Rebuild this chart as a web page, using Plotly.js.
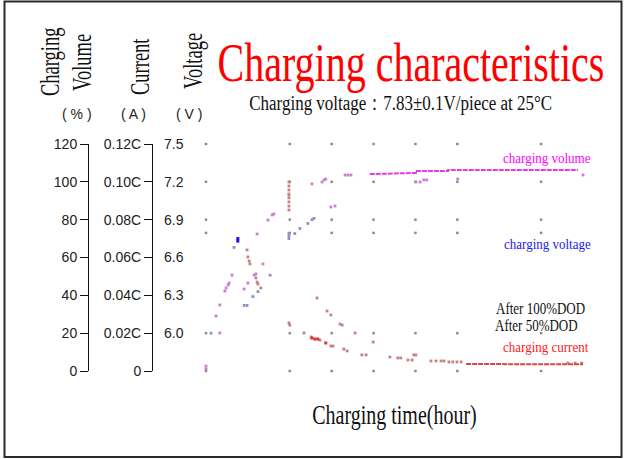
<!DOCTYPE html>
<html>
<head>
<meta charset="utf-8">
<script src="https://cdn.plot.ly/plotly-3.0.1.min.js"></script>
<style>
html,body{margin:0;padding:0;background:#fff;overflow:hidden;}
#chart{width:624px;height:459px;}
</style>
</head>
<body>
<div id="chart"></div>
<script>
// ---- data (time in hours, volume in %, current in C, voltage in V) ----
const gridHours = [0, 2, 3, 4, 5, 6, 8];
const gridPercent = [120, 100, 80, 73, 20, 0];

const volumeHours = [0, 0, 0.24, 0.33, 0.45, 0.48, 0.53, 0.55, 0.62, 0.91, 1.00, 1.15, 1.19, 1.22, 1.48, 1.58, 1.62, 1.98, 2.53, 2.77, 2.82, 2.86, 2.98, 3.08, 3.32, 3.39, 3.46, 5.01, 5.11, 5.20, 5.27, 6.01, 9.0, 0.33, 1.36];
const volumePercent = [2.6, 1.1, 29.1, 34.9, 42.3, 43.9, 45.5, 46.5, 50.7, 43.3, 46.5, 50.7, 51.3, 72.4, 79.8, 82.5, 83.0, 93.0, 98.9, 99.9, 101.0, 101.5, 86.7, 87.2, 103.6, 103.6, 103.6, 99.9, 99.9, 101.0, 101.0, 101.5, 103.6, 20.1, 56.6];

const volumeLineHours = [3.91, 4.39, 4.63, 5.01, 5.01, 5.78, 5.78, 8.88];
const volumeLinePercent = [104.1, 104.3, 104.7, 104.7, 105.7, 105.7, 106.3, 106.3];

const currentHours = [0.98, 1.00, 1.03, 1.05, 1.19, 1.22, 1.24, 1.31, 1.98, 1.98, 1.98, 1.98, 1.98, 1.98, 1.98, 1.98, 1.98, 2.00, 2.65, 2.89, 2.98, 3.20, 3.25, 3.56, 2.34, 2.51, 2.72, 2.98, 3.03, 3.29, 3.37, 3.72, 3.82, 3.99, 4.39, 4.58, 4.65, 4.82, 4.92, 4.96, 5.01, 5.37, 5.49, 5.61, 5.68, 5.80, 5.89, 5.99, 6.09, 8.64, 8.81, 8.97];
const currentC = [0.0640, 0.0603, 0.0581, 0.0566, 0.0492, 0.0470, 0.0460, 0.0439, 0.0999, 0.0978, 0.0957, 0.0936, 0.0915, 0.0894, 0.0872, 0.0851, 0.0254, 0.0243, 0.0386, 0.0317, 0.0296, 0.0248, 0.0243, 0.0201, 0.0201, 0.0180, 0.0164, 0.0132, 0.0132, 0.0116, 0.0106, 0.0085, 0.0085, 0.0153, 0.0074, 0.0069, 0.0069, 0.0058, 0.0058, 0.0085, 0.0085, 0.0053, 0.0053, 0.0053, 0.0053, 0.0048, 0.0048, 0.0048, 0.0048, 0.0042, 0.0042, 0.0042];

const currentRedHours = [2.53, 2.60, 2.67, 2.86];
const currentRedC = [0.0174, 0.0169, 0.0169, 0.0148];

const currentLineHours = [6.21, 6.78, 9.05];
const currentLineC = [0.0037, 0.0037, 0.0035];

const voltageHours = [0.12, 0.67, 0.91, 0.98, 1.12, 1.24, 1.53, 1.98, 1.98, 1.98, 2.12, 2.24, 2.43, 2.53, 2.58];
const voltageV = [6.00, 6.68, 6.22, 6.22, 6.29, 6.33, 6.46, 6.79, 6.77, 6.75, 6.79, 6.83, 6.87, 6.90, 6.91];
const voltageBlueHours = [0.76, 0.76];
const voltageBlueV = [6.75, 6.73];

const volumeTicks = [0, 20, 40, 60, 80, 100, 120];
const currentTicks = [0, 0.02, 0.04, 0.06, 0.08, 0.10, 0.12];
const currentTickText = ['0', '0.02C', '0.04C', '0.06C', '0.08C', '0.10C', '0.12C'];
const voltageTicks = [6.0, 6.3, 6.6, 6.9, 7.2, 7.5];
const voltageTickText = ['6.0', '6.3', '6.6', '6.9', '7.2', '7.5'];

// ---- layout helpers (pixel -> paper) ----
const W = 624, H = 459;
const px = v => v / W;
const py = v => 1 - v / H;

const gridX = [], gridY = [];
gridHours.forEach(h => gridPercent.forEach(p => { gridX.push(h); gridY.push(p); }));

const mk = (x, y, color, yaxis, size) => ({
  type: 'scatter', mode: 'markers', x: x, y: y, yaxis: yaxis, cliponaxis: false,
  marker: {symbol: 'square', size: size || 2.5, color: color, line: {width: 0}},
  hoverinfo: 'skip', showlegend: false
});

const traces = [
  mk(gridX, gridY, '#8c8c8c', 'y', 2.5),
  mk(volumeHours, volumePercent, '#c880cc', 'y', 2.8),
  Object.assign(mk(volumeLineHours, volumeLinePercent, '#e23ce2', 'y'), {mode: 'lines', line: {color: '#e040e0', width: 2, dash: '5px,1px'}}),
  mk(currentHours, currentC, '#c48282', 'y2', 2.8),
  mk(currentRedHours, currentRedC, '#e03030', 'y2', 3),
  Object.assign(mk(currentLineHours, currentLineC, '#d03030', 'y2'), {mode: 'lines', line: {color: '#d04848', width: 2, dash: '5px,1px'}}),
  mk(voltageHours, voltageV, '#9090c8', 'y3', 2.8),
  mk(voltageBlueHours, voltageBlueV, '#1414e0', 'y3', 3)
];

const tickFont = {family: 'Liberation Sans Narrow, Arial Narrow, sans-serif', size: 14, color: '#222'};
const serif = 'Liberation Serif, Times New Roman, serif';
const yDomain = [1 - 371 / H, 1 - 144 / H];

const ann = (text, x, y, size, color, angle) => ({
  text: text, xref: 'paper', yref: 'paper', x: px(x), y: py(y),
  xanchor: 'center', yanchor: 'middle', showarrow: false, textangle: angle || 0,
  font: {family: serif, size: size, color: color || '#111'}
});
const unitFont = {family: 'Liberation Sans Narrow, Arial Narrow, sans-serif', size: 14, color: '#222'};

const layout = {
  width: W, height: H,
  margin: {l: 0, r: 0, t: 0, b: 0},
  paper_bgcolor: '#fff', plot_bgcolor: 'rgba(0,0,0,0)',
  showlegend: false,
  title: {text: 'Charging characteristics', xref: 'container', yref: 'container',
          x: px(411), xanchor: 'center', y: py(62), yanchor: 'middle',
          font: {family: serif, size: 40, color: '#ff0000'}},
  xaxis: {domain: [px(206), px(583)], range: [0, 9], showgrid: false, zeroline: false,
          showline: false, ticks: '', showticklabels: false, fixedrange: true,
          title: {text: 'Charging time(hour)', font: {family: serif, size: 20, color: '#111'}, standoff: 36}},
  yaxis: {domain: yDomain, range: [0, 120], anchor: 'free', position: px(88), side: 'left',
          showline: true, linecolor: '#111', linewidth: 1, ticks: 'outside', ticklen: 8, tickcolor: '#111',
          tickvals: volumeTicks, ticktext: volumeTicks.map(String), tickfont: tickFont,
          showgrid: false, zeroline: false, fixedrange: true},
  yaxis2: {domain: yDomain, range: [0, 0.12], overlaying: 'y', anchor: 'free', position: px(152), side: 'left',
          showline: true, linecolor: '#111', linewidth: 1, ticks: 'outside', ticklen: 8, tickcolor: '#111',
          tickvals: currentTicks, ticktext: currentTickText, tickfont: tickFont,
          showgrid: false, zeroline: false, fixedrange: true},
  yaxis3: {domain: yDomain, range: [5.7, 7.5], overlaying: 'y', anchor: 'free', position: px(163), side: 'right',
          showline: false, ticks: '', tickvals: voltageTicks, ticktext: voltageTickText, tickfont: tickFont,
          showgrid: false, zeroline: false, fixedrange: true},
  annotations: [
    ann('Charging', 50, 62, 18.5, '#111', -90),
    ann('Volume', 82, 63, 18.5, '#111', -90),
    ann('Current', 140, 67, 18.5, '#111', -90),
    ann('Voltage', 193, 61, 18.5, '#111', -90),
    Object.assign(ann('( % )', 77, 114, 14, '#222'), {font: unitFont}),
    Object.assign(ann('( A )', 133, 114, 14, '#222'), {font: unitFont}),
    Object.assign(ann('( V )', 189, 114, 14, '#222'), {font: unitFont}),
    ann('Charging voltage：7.83±0.1V/piece at 25°C', 400.5, 104, 17, '#111'),
    ann('charging volume', 547, 158, 13, '#ff00ff'),
    ann('charging voltage', 547.5, 243, 13, '#2222ee'),
    ann('After 100%DOD', 540, 308, 13, '#111'),
    ann('After 50%DOD', 536, 325, 13, '#111'),
    ann('charging current', 545.5, 346, 13, '#ff1a1a')
  ],
  shapes: [
    {type: 'rect', xref: 'paper', yref: 'paper', x0: px(4.5), x1: px(621.5), y0: py(457), y1: py(1.5),
     line: {color: '#2a2a2a', width: 2}, fillcolor: 'rgba(0,0,0,0)'}
  ]
};

function stretch(el, sy) {
  const bb = el.getBBox();
  const cy = bb.y + bb.height / 2;
  const prev = el.getAttribute('transform') || '';
  el.setAttribute('transform', prev + ' translate(0,' + cy + ') scale(1,' + sy + ') translate(0,' + (-cy) + ')');
}

Plotly.newPlot('chart', traces, layout, {staticPlot: true, displayModeBar: false}).then(gd => {
  const factors = {
    'Charging characteristics': 1.36,
    'Charging time(hour)': 1.34,
    'Charging voltage：7.83±0.1V/piece at 25°C': 1.24,
    'Charging': 1.45, 'Volume': 1.45, 'Current': 1.45, 'Voltage': 1.45,
    'charging volume': 1.2, 'charging voltage': 1.2, 'charging current': 1.2,
    'After 100%DOD': 1.25, 'After 50%DOD': 1.25
  };
  gd.querySelectorAll('text').forEach(t => {
    const f = factors[t.textContent];
    if (f) stretch(t, f);
  });
});
</script>
</body>
</html>
